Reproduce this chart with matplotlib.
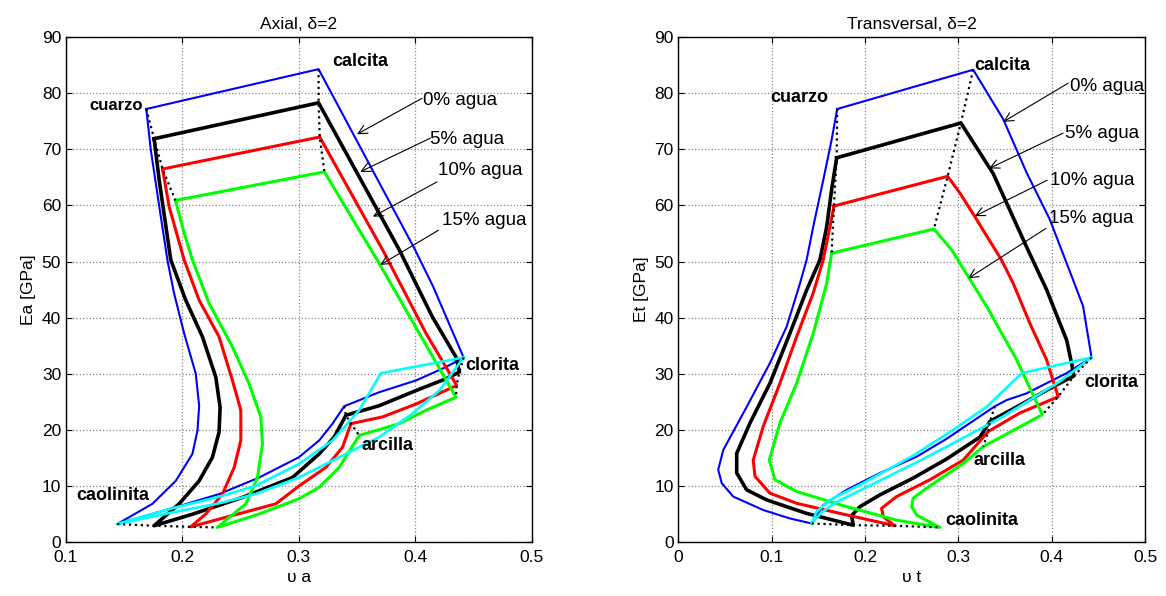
import matplotlib
matplotlib.use("Agg")
import matplotlib.pyplot as plt

plt.rcParams['font.family'] = ['Liberation Sans', 'DejaVu Sans']

# axial panel, curves go cuarzo -> caolinita -> arcilla -> clorita -> calcita -> cuarzo
axial_0_x = [.169, .1728, .180, .1871, .1929, .2015, .2115, .2144, .213, .2086, .1943, .1742, .144,
             .194, .2316, .266, .300, .3175, .329, .339, .369, .4007, .4265, .4416,
             .4155, .3999, .317, .169]
axial_0_y = [77.2, 70, 60, 50.3, 44.3, 37.2, 30.0, 24.3, 19.9, 15.7, 10.9, 6.8, 3.2,
             6.2, 8.55, 11.5, 15.1, 18.1, 21.1, 24.2, 26.7, 28.8, 31.2, 32.9,
             45.5, 52.1, 84.3, 77.2]
axial_5_x = [.1757, .18, .19, .2029, .2172, .2287, .2324, .2315, .2258, .2144, .1972, .1757,
             .2086, .2516, .2946, .3175, .3304, .3405, .3691, .4007, .4265, .438,
             .435, .4146, .3863, .317, .1757]
axial_5_y = [71.9, 64.6, 50.3, 43.1, 36.6, 29.4, 24.0, 19.6, 15.1, 10.9, 6.8, 2.9,
             4.95, 7.95, 11.5, 15.7, 18.7, 22.6, 24.3, 27.0, 29.1, 30.3,
             33.0, 40.2, 52.1, 78.3, 71.9]
axial_10_x = [.183, .1886, .2015, .2144, .2315, .243, .2502, .2502, .2445, .2344, .2201, .2072,
              .2372, .2802, .3003, .3233, .3376, .3448, .372, .4007, .4356,
              .4295, .4093, .372, .318, .183]
axial_10_y = [66.5, 59.8, 50.3, 43.1, 36.6, 28.8, 23.5, 18.1, 13.3, 8.55, 5.0, 2.7,
              4.4, 6.8, 10.0, 13.3, 16.9, 21.1, 22.3, 24.6, 27.9,
              30.1, 37.2, 52.1, 72.2, 66.5]
axial_15_x = [.194, .2015, .2086, .223, .243, .2573, .2674, .2688, .2645, .2545, .230,
              .266, .300, .3175, .3347, .3519, .3863, .4093, .435,
              .369, .322, .194]
axial_15_y = [60.9, 55.1, 50.3, 42.5, 34.8, 28.2, 22.3, 17.5, 11.5, 6.8, 2.6,
              5.0, 7.7, 9.74, 13.3, 19.0, 21.1, 23.5, 25.8,
              49.7, 66.0, 60.9]
axial_cyan_a_x = [.144, .191, .234, .2627, .300, .329, .3519, .3706, .4416]
axial_cyan_a_y = [3.2, 6.0, 8.2, 10.0, 13.9, 18.1, 23.5, 30.1, 32.9]
axial_cyan_b_x = [.144, .191, .234, .2627, .300, .3347, .3691, .3977, .4207, .4416]
axial_cyan_b_y = [3.2, 5.25, 7.0, 8.55, 11.5, 15.1, 18.7, 22.9, 27.0, 32.9]

# transversal panel, same order
trans_0_x = [.1702, .1642, .1552, .1445, .1374, .1303, .1160, .0981, .0732, .0481, .0427, .0464, .0588, .0909, .1195, .1428,
             .1552, .1803, .2160, .2552, .2874, .3124, .3392, .3517, .3731, .3945, .4160, .4427,
             .4337, .4230, .3980, .3730, .3480, .3159, .1702]
trans_0_y = [77.2, 71.7, 64.5, 56.2, 50.3, 46.1, 38.4, 31.9, 24.1, 16.4, 12.9, 10.5, 8.1, 5.7, 4.2, 3.3,
             6.6, 9.3, 12.3, 15.2, 18.4, 21.2, 24.2, 25.3, 26.5, 28.3, 30.1, 32.9,
             42.0, 46.7, 57.5, 65.9, 75.4, 84.2, 77.2]
trans_5_x = [.1696, .1642, .1589, .1517, .1374, .1195, .0981, .0767, .0625, .0625, .0732, .0946, .1374, .1874,
             .1856, .1945, .2159, .2516, .2874, .3231, .3338, .3659, .4016, .4238,
             .4213, .4160, .3945, .3745, .3600, .3373, .3027, .1696]
trans_5_y = [68.5, 62.8, 56.2, 50.3, 44.9, 37.2, 28.3, 21.2, 15.8, 12.3, 9.3, 7.5, 5.1, 3.0,
             4.7, 6.3, 8.4, 11.4, 14.8, 18.7, 21.5, 24.4, 27.7, 29.6,
             31.9, 36.0, 45.0, 52.1, 57.4, 65.7, 74.7, 68.5]
trans_10_x = [.1667, .1624, .1552, .1445, .1267, .1088, .0909, .0802, .0821, .0981, .1267, .1731, .2320,
              .2195, .2178, .2338, .2695, .3052, .3320, .3659, .4070,
              .4016, .3945, .3766, .3588, .3462, .3177, .3017, .2885, .1667]
trans_10_y = [59.9, 56.2, 50.3, 44.4, 36.6, 28.3, 20.6, 14.6, 11.7, 8.7, 6.9, 5.1, 2.9,
              4.5, 6.0, 8.1, 11.1, 14.6, 19.7, 23.0, 25.9,
              28.7, 32.5, 39.0, 46.1, 50.3, 58.0, 62.2, 65.2, 59.9]
trans_15_x = [.1642, .1589, .1445, .1267, .1088, .0974, .1035, .1267, .1803, .2338, .2802,
              .2553, .2499, .2516, .2660, .3052, .3266, .3900,
              .3624, .3303, .2928, .2738, .1642]
trans_15_y = [51.5, 46.1, 37.2, 28.3, 21.2, 14.6, 11.1, 9.0, 6.3, 3.9, 2.6,
              4.8, 6.3, 7.8, 9.6, 14.0, 17.0, 22.7,
              32.5, 42.0, 52.1, 55.8, 51.5]
trans_cyan_a_x = [.1428, .1481, .1624, .1981, .2516, .2945, .3303, .3678, .4427]
trans_cyan_a_y = [3.3, 5.4, 7.5, 10.5, 15.4, 20.0, 24.1, 30.1, 32.9]
trans_cyan_b_x = [.1428, .1530, .1680, .2020, .2588, .2945, .3480, .4086, .4427]
trans_cyan_b_y = [3.3, 5.2, 7.0, 9.8, 14.5, 17.6, 22.4, 28.6, 32.9]

# mineral end points for 0, 5, 10, 15 % water (dotted black links)
axial_links = {
    'cuarzo': ([.169, .1757, .183, .194], [77.2, 71.9, 66.5, 60.9]),
    'calcita': ([.317, .317, .318, .322], [84.3, 78.3, 72.2, 66.0]),
    'clorita': ([.4416, .438, .4356, .435], [32.9, 30.3, 27.9, 25.8]),
    'arcilla': ([.339, .3405, .3448, .3519], [24.2, 22.6, 21.1, 19.0]),
    'caolinita': ([.144, .1757, .2072, .230], [3.2, 2.9, 2.7, 2.6]),
}
trans_links = {
    'cuarzo': ([.1702, .1696, .1667, .1642], [77.2, 68.5, 59.9, 51.5]),
    'calcita': ([.3159, .3027, .2885, .2738], [84.2, 74.7, 65.2, 55.8]),
    'clorita': ([.4427, .4238, .4070, .3900], [32.9, 29.6, 25.9, 22.7]),
    'arcilla': ([.3392, .3338, .3320, .3266], [24.2, 21.5, 19.7, 17.0]),
    'caolinita': ([.1428, .1874, .2320, .2802], [3.3, 3.0, 2.9, 2.6]),
}

# label text, x, y, alignment, size
axial_names = [('cuarzo', .1431, 77.9, 'center', 12), ('calcita', .3287, 85.6, 'left', 13),
               ('clorita', .4431, 31.4, 'left', 13), ('arcilla', .3543, 17.2, 'left', 13),
               ('caolinita', .1092, 8.3, 'left', 13)]
trans_names = [('cuarzo', .1292, 79.2, 'center', 13), ('calcita', .3166, 85.0, 'left', 13),
               ('clorita', .4345, 28.4, 'left', 13), ('arcilla', .3159, 14.6, 'left', 13),
               ('caolinita', .2856, 3.9, 'left', 13)]

water_labels = ['0% agua', '5% agua', '10% agua', '15% agua']
# text pos, arrow tail, arrow head
axial_arrows = [((.407, 78.8), (.4058, 79.1), (.350, 72.7)),
                ((.413, 71.7), (.413, 72.0), (.3528, 66.0)),
                ((.4199, 66.3), (.4187, 64.2), (.3637, 58.0)),
                ((.423, 57.4), (.4201, 55.6), (.370, 49.4))]
trans_arrows = [((.4195, 81.2), (.4177, 81.8), (.348, 74.9)),
                ((.4141, 72.9), (.4123, 72.9), (.333, 66.6)),
                ((.3981, 64.5), (.3952, 64.5), (.3177, 58.1)),
                ((.3973, 57.7), (.3938, 55.9), (.3106, 47.0))]

colors = ['#0000ff', 'black', '#ff0000', '#00ff00']
widths = [1.5, 2.6, 2.2, 2.2]


def draw_panel(ax, curves, cyans, links, names, arrows, xlim, xticks, title, xlabel, ylabel):
    for (x, y), c, w in zip(curves, colors, widths):
        ax.plot(x, y, color=c, lw=w, solid_joinstyle='round')
    for x, y in cyans:
        ax.plot(x, y, color='#00ffff', lw=1.9)
    for x, y in links.values():
        ax.plot(x, y, color='black', ls=':', lw=1.6)
    for name, x, y, ha, fs in names:
        ax.text(x, y, name, fontsize=fs, fontweight='bold', ha=ha, va='center')
    for lab, (pos, tail, head) in zip(water_labels, arrows):
        ax.text(pos[0], pos[1], lab, fontsize=13.5, ha='left', va='center')
        ax.annotate('', xy=head, xytext=tail,
                    arrowprops=dict(arrowstyle='->', lw=0.8, color='black',
                                    shrinkA=0, shrinkB=0, mutation_scale=16))
    ax.set_xlim(xlim)
    ax.set_ylim(0, 90)
    ax.set_xticks(xticks)
    ax.set_xticklabels([('%g' % t) for t in xticks])
    ax.set_yticks(range(0, 91, 10))
    ax.grid(True, color='#888888', ls=':', lw=0.9)
    ax.tick_params(direction='in', top=True, right=True, labelsize=12.5, length=4)
    ax.tick_params(axis='x', pad=6)
    ax.set_title(title, fontsize=12.5)
    ax.set_xlabel(xlabel, fontsize=12.5, labelpad=3)
    ax.set_ylabel(ylabel, fontsize=12.5)
    for s in ax.spines.values():
        s.set_linewidth(1.0)


fig = plt.figure(figsize=(11.66, 5.96), dpi=100)
ax1 = fig.add_axes([0.0566, 0.0906, 0.3993, 0.847])
ax2 = fig.add_axes([0.5818, 0.0906, 0.4002, 0.847])

draw_panel(ax1,
           [(axial_0_x, axial_0_y), (axial_5_x, axial_5_y), (axial_10_x, axial_10_y), (axial_15_x, axial_15_y)],
           [(axial_cyan_a_x, axial_cyan_a_y), (axial_cyan_b_x, axial_cyan_b_y)],
           axial_links, axial_names, axial_arrows,
           (0.1, 0.5), [0.1, 0.2, 0.3, 0.4, 0.5], 'Axial, δ=2', 'υ a', 'Ea [GPa]')
draw_panel(ax2,
           [(trans_0_x, trans_0_y), (trans_5_x, trans_5_y), (trans_10_x, trans_10_y), (trans_15_x, trans_15_y)],
           [(trans_cyan_a_x, trans_cyan_a_y), (trans_cyan_b_x, trans_cyan_b_y)],
           trans_links, trans_names, trans_arrows,
           (0, 0.5), [0, 0.1, 0.2, 0.3, 0.4, 0.5], 'Transversal, δ=2', 'υ t', 'Et [GPa]')

fig.savefig('out.png', dpi=100)
